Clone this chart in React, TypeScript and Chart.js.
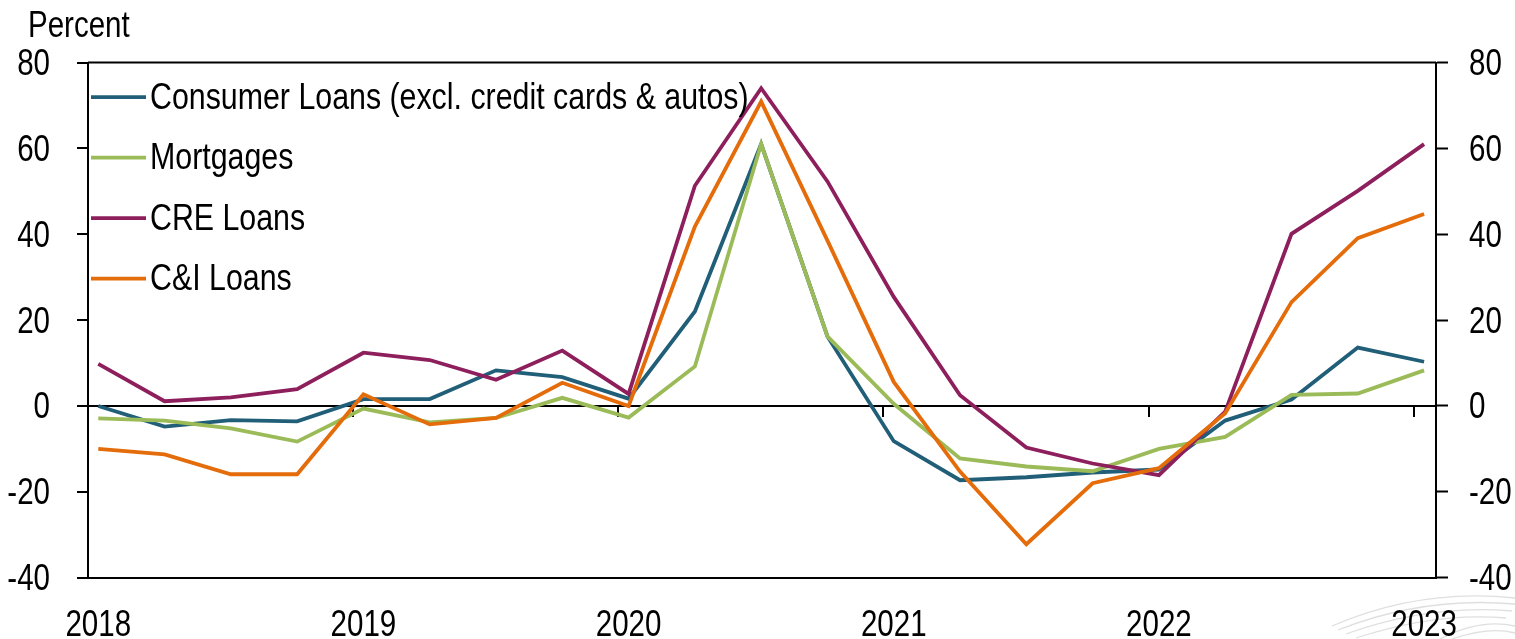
import React, { useEffect, useRef } from "react";
import { Chart, registerables } from "chart.js";

Chart.register(...registerables);

// Quarterly observations, 2018:Q1 through 2023:Q1 (index 0..20)
const QUARTERS = [
  "2018Q1", "2018Q2", "2018Q3", "2018Q4",
  "2019Q1", "2019Q2", "2019Q3", "2019Q4",
  "2020Q1", "2020Q2", "2020Q3", "2020Q4",
  "2021Q1", "2021Q2", "2021Q3", "2021Q4",
  "2022Q1", "2022Q2", "2022Q3", "2022Q4",
  "2023Q1",
];

const YEAR_LABELS = ["2018", "2019", "2020", "2021", "2022", "2023"];
const Y_TICKS = [-40, -20, 0, 20, 40, 60, 80];

const consumerLoans = [0, -4.8, -3.3, -3.6, 1.6, 1.6, 8.3, 6.7, 1.7, 22.0, 61.0, 16.2, -8.2, -17.3, -16.6, -15.5, -14.8, -3.4, 1.5, 13.6, 10.3];
const mortgages = [-2.9, -3.4, -5.2, -8.3, -0.6, -3.8, -2.8, 1.9, -2.7, 9.2, 61.0, 16.2, 0.5, -12.2, -14.1, -15.2, -10.0, -7.2, 2.6, 2.9, 8.3];
const creLoans = [9.8, 1.1, 2.0, 3.9, 12.4, 10.7, 6.1, 12.9, 2.8, 51.3, 74.0, 52.3, 25.4, 2.5, -9.7, -13.4, -16.1, -1.3, 40.1, 50.1, 61.0];
const ciLoans = [-10.0, -11.3, -15.9, -15.9, 2.7, -4.3, -2.8, 5.4, 0.0, 41.8, 70.9, 38.5, 5.6, -15.3, -32.2, -18.0, -14.5, -1.7, 24.2, 39.1, 44.7];

const SERIES_NAMES = [
  "Consumer Loans (excl. credit cards & autos)",
  "Mortgages",
  "CRE Loans",
  "C&I Loans",
];
const SERIES_COLORS = ["#215F78", "#9BBB59", "#8E1F5D", "#E46C0A"];

const FONT = "'Liberation Sans', Arial, sans-serif";
// horizontal squeeze giving a narrow face from the regular one
const NARROW_SCALE = 0.82;

// x runs over quarter index; small margins either side of the first/last quarter
const X_MIN = -0.155;
const X_MAX = 20.18;

const toPoints = (vals: number[]) => vals.map((v, i) => ({ x: i, y: v }));

function narrowText(
  ctx: CanvasRenderingContext2D,
  text: string,
  x: number,
  y: number,
  size: number,
  align: CanvasTextAlign,
) {
  ctx.save();
  ctx.translate(x, y);
  ctx.scale(NARROW_SCALE, 1);
  ctx.font = `${size}px ${FONT}`;
  ctx.textAlign = align;
  ctx.textBaseline = "alphabetic";
  ctx.fillStyle = "#000";
  ctx.fillText(text, 0, 0);
  ctx.restore();
}

const framePlugin = {
  id: "frame",
  beforeDatasetsDraw(chart: any) {
    const { ctx, chartArea, scales } = chart;
    const x = scales.x;
    const y = scales.y;
    const zeroY = y.getPixelForValue(0);
    ctx.save();
    ctx.strokeStyle = "#000";
    ctx.lineWidth = 2;
    // top frame line
    ctx.beginPath();
    ctx.moveTo(chartArea.left, chartArea.top);
    ctx.lineTo(chartArea.right, chartArea.top);
    ctx.stroke();
    // year boundary ticks hanging from the zero line
    for (let k = 1; k < YEAR_LABELS.length; k++) {
      const px = Math.round(x.getPixelForValue(k * 4 + X_MIN));
      ctx.beginPath();
      ctx.moveTo(px, zeroY);
      ctx.lineTo(px, zeroY + 11);
      ctx.stroke();
    }
    ctx.restore();
  },
  afterDraw(chart: any) {
    const { ctx, scales } = chart;
    const x = scales.x;
    const y = scales.y;
    const y2 = scales.y2;
    ctx.save();

    // faint emblem in the lower right corner
    ctx.strokeStyle = "rgba(185,185,185,0.45)";
    ctx.lineWidth = 1.3;
    const swoops = [
      [1332, 626, 1420, 588, 1515, 598],
      [1338, 630, 1424, 596, 1515, 604],
      [1346, 634, 1430, 604, 1512, 611],
      [1356, 638, 1436, 612, 1506, 618],
      [1440, 639, 1480, 618, 1515, 626],
      [1452, 639, 1490, 626, 1515, 633],
    ];
    swoops.forEach(([x0, y0, cx, cy, x1, y1]) => {
      ctx.beginPath();
      ctx.moveTo(x0, y0);
      ctx.quadraticCurveTo(cx, cy, x1, y1);
      ctx.stroke();
    });

    // axis tick labels
    Y_TICKS.forEach((v) => {
      const py = y.getPixelForValue(v) + 12.5;
      narrowText(ctx, String(v), 50, py, 36, "right");
      narrowText(ctx, String(v), y2.right - 79 + 33, y2.getPixelForValue(v) + 12.5, 36, "left");
    });
    YEAR_LABELS.forEach((label, k) => {
      narrowText(ctx, label, x.getPixelForValue(k * 4), 636, 36, "center");
    });

    // unit label
    narrowText(ctx, "Percent", 28, 36.5, 36, "left");

    // legend with line samples
    const rowBase = [108.5, 169, 229.5, 290];
    chart.data.datasets.forEach((ds: any, i: number) => {
      const base = rowBase[i];
      ctx.strokeStyle = ds.borderColor;
      ctx.lineWidth = 3.8;
      ctx.lineCap = "butt";
      ctx.beginPath();
      ctx.moveTo(91, base - 11.3);
      ctx.lineTo(146, base - 11.3);
      ctx.stroke();
      narrowText(ctx, ds.label, 150, base, 37, "left");
    });
    ctx.restore();
  },
};

export default function App() {
  const canvasRef = useRef<HTMLCanvasElement | null>(null);

  useEffect(() => {
    const canvas = canvasRef.current;
    if (!canvas) return;
    const seriesValues = [consumerLoans, mortgages, creLoans, ciLoans];

    const yCommon = {
      min: -40,
      max: 80,
      afterBuildTicks: (scale: any) => {
        scale.ticks = Y_TICKS.map((v) => ({ value: v }));
      },
    };

    const chart = new Chart(canvas, {
      type: "line",
      data: {
        labels: QUARTERS,
        datasets: seriesValues.map((vals, i) => ({
          label: SERIES_NAMES[i],
          data: toPoints(vals),
          borderColor: SERIES_COLORS[i],
          backgroundColor: SERIES_COLORS[i],
          borderWidth: 3.8,
          pointRadius: 0,
          tension: 0,
          fill: false,
          order: seriesValues.length - i,
        })),
      },
      options: {
        animation: false,
        responsive: false,
        devicePixelRatio: 1,
        layout: { padding: { top: 62.5, left: 0, right: 0, bottom: 0 } },
        plugins: {
          legend: { display: false },
          tooltip: { enabled: false },
          title: { display: false },
        },
        scales: {
          x: {
            type: "linear",
            min: X_MIN,
            max: X_MAX,
            afterBuildTicks: (scale: any) => {
              scale.ticks = YEAR_LABELS.map((_, k) => ({ value: k * 4 }));
            },
            afterFit: (scale: any) => {
              scale.height = 61.3;
            },
            ticks: { display: false },
            grid: { display: true, drawOnChartArea: false, drawTicks: false },
            border: { display: true, color: "#000", width: 2 },
          },
          y: {
            ...yCommon,
            position: "left",
            afterFit: (scale: any) => {
              scale.width = 88;
            },
            ticks: { display: false },
            grid: {
              drawOnChartArea: true,
              color: (c: any) => (c.tick && c.tick.value === 0 ? "#000" : "rgba(0,0,0,0)"),
              lineWidth: 2,
              tickColor: "#000",
              tickWidth: 2,
              tickLength: 11,
            },
            border: { display: true, color: "#000", width: 2 },
          },
          y2: {
            ...yCommon,
            position: "right",
            afterFit: (scale: any) => {
              scale.width = 79;
            },
            ticks: { display: false },
            grid: {
              drawOnChartArea: false,
              color: "#000",
              tickColor: "#000",
              tickWidth: 2,
              tickLength: 12,
            },
            border: { display: true, color: "#000", width: 2 },
          },
        },
      },
      plugins: [framePlugin],
    });

    return () => chart.destroy();
  }, []);

  return (
    <div style={{ position: "fixed", left: 0, top: 0, width: 1515, height: 639, background: "#fff" }}>
      <canvas ref={canvasRef} width={1515} height={639} style={{ display: "block" }} />
    </div>
  );
}
